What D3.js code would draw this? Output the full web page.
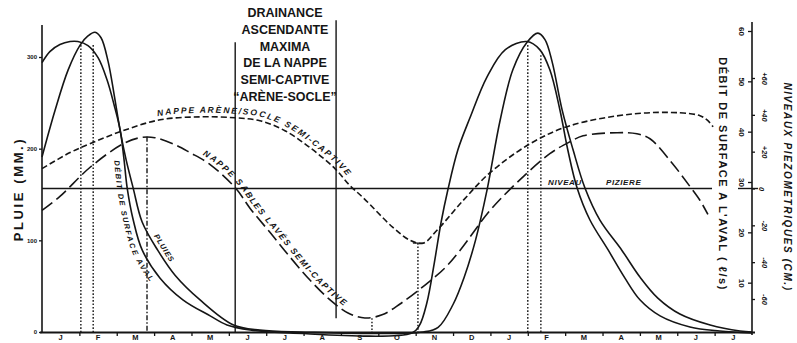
<!DOCTYPE html>
<html>
<head>
<meta charset="utf-8">
<script src="https://cdn.jsdelivr.net/npm/d3@7"></script>
<style>
  body { margin: 0; background: #fff; }
  svg text { font-family: "Liberation Sans", Arial, sans-serif; fill: #151515; font-weight: bold; }
  .curve { fill: none; stroke: #151515; stroke-width: 1.6; }
</style>
</head>
<body>
<svg id="chart" width="797" height="343"></svg>
<script>
// mois de l'axe horizontal (19 mois à partir de janvier)
let months = ["J","F","M","A","M","J","J","A","S","O","N","D","J","F","M","A","M","J","J"];
let pluieTicks = [0, 100, 200, 300];
let debitTicks = [10, 20, 30, 40, 50, 60];
let niveauTicks = [-60, -40, -20, 0, 20, 40, 60];

// [mois, mm]
let pluies = [[0,191],[0.35,242],[0.7,286],[1.02,313],[1.23,323],[1.42,327],[1.58,321],[1.77,295],
  [1.93,259],[2.09,220],[2.25,188],[2.44,157],[2.68,120],[3.1,89],[3.56,62],[4.23,35],[5.11,8],
  [5.83,2],[6.9,0],[10.2,0],[10.6,5],[11.0,30],[11.3,60],[11.6,100],[11.91,155],[12.26,231],
  [12.6,286],[12.98,316],[13.27,326],[13.46,319],[13.65,295],[13.92,242],[14.21,199],[14.53,157],
  [14.93,122],[15.52,89],[16.0,60],[16.48,37],[17.07,19.6],[17.88,7.6],[18.68,1.1],[19,0]];

// [mois, l/s]
let debit = [[0,53.7],[0.21,55.9],[0.48,57.3],[0.75,57.9],[0.96,57.9],[1.23,57.1],[1.5,54.7],
  [1.74,50.3],[1.93,45.3],[2.09,40.4],[2.19,34.8],[2.28,28.8],[2.44,22.5],[2.68,16.5],[3.16,10.9],
  [3.77,6.6],[4.5,3.4],[4.95,1.6],[5.57,0.6],[6.64,0],[9.9,0],[10.1,1.5],[10.3,6],[10.5,14],
  [10.68,22],[10.86,28.4],[11.13,36.4],[11.45,42.7],[11.91,50.9],[12.4,56.3],[12.98,57.9],
  [13.32,56.3],[13.59,52.3],[13.86,44.3],[14.07,36.4],[14.32,28.8],[14.66,22.5],[15.15,16.5],
  [15.6,10.9],[16.0,6.6],[16.54,3.4],[17.34,1.2],[18.14,0.4],[19,0]];

// [mois, cm] niveaux piézométriques
let nappeArene = [[0,10.8],[0.75,19.5],[1.28,24.3],[2.17,31.4],[3.16,37.3],[4.23,38.9],[5.17,38.4],
  [5.83,36.8],[6.5,31.4],[7.17,22.2],[7.84,10.8],[8.24,1.6],[8.59,-4.9],[9.39,-21.1],[9.85,-28.1],
  [10.2,-29.7],[10.57,-22.7],[11.27,-6.5],[11.99,8.6],[13.06,24.3],[14.13,34.1],[15.82,40.5],
  [17.07,41.1],[17.61,39.5],[17.82,36.8],[17.96,33.5]];

let nappeSables = [[0,-11.9],[0.48,-4.3],[1.28,11.4],[2.17,24.3],[2.62,27.6],[3.02,27.6],[3.56,23.8],
  [3.96,19.5],[4.5,13.0],[5.19,0],[5.57,-10.8],[6.1,-23.8],[6.64,-37.3],[7.17,-49.7],[7.71,-60.5],
  [8.19,-67.6],[8.64,-70.3],[9.1,-68.6],[9.58,-62.7],[10.25,-52.4],[10.78,-43.2],[11.19,-33.5],
  [11.99,-11.9],[12.71,3.2],[13.59,18.9],[14.13,25.4],[14.48,28.6],[15.39,30.3],[15.92,29.7],
  [16.27,27.0],[16.81,15.1],[17.34,1.1],[17.61,-6.5],[17.82,-14.1]];

// repères verticaux [mois, haut en mm, bas en mm]
let dottedLines = [[1.04,313,0],[1.37,313,0],[13.0,313,0],[13.35,302,0],[10.06,97,0],[8.83,15,0]];
let dashDotLines = [[2.81,213,0]];
let solidLines = [[5.17,316,0],[7.87,340,15]];
let niveauZero = [0, 17.93];

let drainance = ["DRAINANCE","ASCENDANTE","MAXIMA","DE LA NAPPE","SEMI-CAPTIVE","\u201CARÈNE-SOCLE\u201D"];

let svg = d3.select("#chart");

let x = d3.scaleLinear().domain([0, 19]).range([42, 752]);
let xBand = d3.scaleBand().domain(d3.range(19)).range([42, 752]);
let yPluie = d3.scaleLinear().domain([0, 300]).range([332, 57]);
let yDebit = d3.scaleLinear().domain([0, 60]).range([333, 31]);
let yNiveau = d3.scaleLinear().domain([-60, 60]).range([299, 78]);

let ink = "#151515";

// axes
svg.append("line").attr("x1", 42).attr("x2", 42).attr("y1", 25).attr("y2", 333)
  .attr("stroke", ink).attr("stroke-width", 1.6);
svg.append("line").attr("x1", 752).attr("x2", 752).attr("y1", 22).attr("y2", 335)
  .attr("stroke", ink).attr("stroke-width", 1.6);
svg.append("line").attr("x1", 40).attr("x2", 755).attr("y1", 332.5).attr("y2", 332.5)
  .attr("stroke", ink).attr("stroke-width", 1.8);

let leftAxis = svg.append("g")
  .attr("transform", "translate(42,0)")
  .call(d3.axisLeft(yPluie).tickValues(pluieTicks).tickSize(3).tickPadding(2));
leftAxis.select(".domain").remove();
leftAxis.selectAll("line").attr("stroke", ink).attr("stroke-width", 1.3);
leftAxis.selectAll("text").style("font-size", "6px").attr("fill", ink);

let monthTicks = svg.append("g")
  .attr("transform", "translate(0,332)")
  .call(d3.axisBottom(x).tickValues(d3.range(1, 19)).tickSize(4).tickFormat(""));
monthTicks.select(".domain").remove();
monthTicks.selectAll("line").attr("stroke", ink).attr("stroke-width", 1.3);

let monthLabels = svg.append("g")
  .attr("transform", "translate(0,332)")
  .call(d3.axisBottom(xBand).tickSize(0).tickPadding(3).tickFormat(i => months[i]));
monthLabels.select(".domain").remove();
monthLabels.selectAll("text").style("font-size", "7.5px").attr("fill", ink);

let debitAxis = svg.append("g")
  .attr("transform", "translate(752,0)")
  .call(d3.axisLeft(yDebit).tickValues(debitTicks).tickSize(4));
debitAxis.select(".domain").remove();
debitAxis.selectAll("line").attr("stroke", ink).attr("stroke-width", 1.3);
debitAxis.selectAll("text")
  .attr("x", 0).attr("dy", null)
  .attr("text-anchor", "middle")
  .attr("dominant-baseline", "central")
  .attr("transform", "translate(-11,0) rotate(90)")
  .style("font-size", "8px").attr("fill", ink);

let niveauAxis = svg.append("g")
  .attr("transform", "translate(752,0)")
  .call(d3.axisRight(yNiveau).tickValues(niveauTicks).tickSize(3)
    .tickFormat(d => d > 0 ? "+" + d : d == 0 ? "0" : "-" + Math.abs(d)));
niveauAxis.select(".domain").remove();
niveauAxis.selectAll("line").attr("stroke", ink).attr("stroke-width", 1.3);
niveauAxis.selectAll("text")
  .attr("x", 0).attr("dy", null)
  .attr("text-anchor", "middle")
  .attr("dominant-baseline", "central")
  .attr("transform", d => `translate(${d == 0 ? 9 : 12},0) rotate(90)`)
  .style("font-size", "7.5px").style("font-style", "italic").attr("fill", ink);
svg.append("line").attr("x1", 738).attr("x2", 758)
  .attr("y1", yNiveau(0)).attr("y2", yNiveau(0))
  .attr("stroke", ink).attr("stroke-width", 1.4);

// niveau piézière
svg.append("line")
  .attr("x1", x(niveauZero[0])).attr("x2", x(niveauZero[1]))
  .attr("y1", yNiveau(0)).attr("y2", yNiveau(0))
  .attr("stroke", ink).attr("stroke-width", 1.5);

// verticales
svg.selectAll(".vsolid").data(solidLines).enter().append("line")
  .attr("x1", d => x(d[0])).attr("x2", d => x(d[0]))
  .attr("y1", d => yPluie(d[1])).attr("y2", d => yPluie(d[2]))
  .attr("stroke", ink).attr("stroke-width", 1.4);
svg.selectAll(".vdot").data(dottedLines).enter().append("line")
  .attr("x1", d => x(d[0])).attr("x2", d => x(d[0]))
  .attr("y1", d => yPluie(d[1])).attr("y2", d => yPluie(d[2]))
  .attr("stroke", ink).attr("stroke-width", 1.4).attr("stroke-dasharray", "1.6,1.8");
svg.selectAll(".vdash").data(dashDotLines).enter().append("line")
  .attr("x1", d => x(d[0])).attr("x2", d => x(d[0]))
  .attr("y1", d => yPluie(d[1])).attr("y2", d => yPluie(d[2]))
  .attr("stroke", ink).attr("stroke-width", 1.4).attr("stroke-dasharray", "5,2,1.5,2");
// petit repère au minimum de la nappe arène
svg.append("line")
  .attr("x1", x(10.06) - 5).attr("x2", x(10.06) + 5)
  .attr("y1", yPluie(97)).attr("y2", yPluie(97))
  .attr("stroke", ink).attr("stroke-width", 1.2);

// courbes
let smooth = d3.curveCatmullRom.alpha(0.5);
let linePluie = d3.line().x(d => x(d[0])).y(d => yPluie(d[1])).curve(smooth);
let lineDebit = d3.line().x(d => x(d[0])).y(d => yDebit(d[1])).curve(smooth);
let lineNiveau = d3.line().x(d => x(d[0])).y(d => yNiveau(d[1])).curve(smooth);

svg.append("path").attr("id", "cPluie").attr("class", "curve").attr("d", linePluie(pluies));
svg.append("path").attr("id", "cDebit").attr("class", "curve").attr("d", lineDebit(debit));
svg.append("path").attr("id", "cArene").attr("class", "curve")
  .attr("stroke-dasharray", "6,3").attr("d", lineNiveau(nappeArene));
svg.append("path").attr("id", "cSables").attr("class", "curve")
  .attr("stroke-dasharray", "13,5").attr("d", lineNiveau(nappeSables));

function offsetAtX(id, px) {
  let node = document.getElementById(id);
  let len = node.getTotalLength();
  for (let l = 0; l < len; l += 0.5) {
    if (node.getPointAtLength(l).x >= px) return l;
  }
  return 0;
}

function curveLabel(id, label, startX, dy, size, spacing) {
  svg.append("text")
    .attr("dy", dy)
    .style("font-size", size + "px")
    .style("font-style", "italic")
    .style("letter-spacing", spacing + "px")
    .append("textPath")
    .attr("href", "#" + id)
    .attr("startOffset", offsetAtX(id, startX))
    .text(label);
}

curveLabel("cArene", "NAPPE ARÈNE/SOCLE SEMI-CAPTIVE", 158, -4, 8.5, 1.7);
curveLabel("cSables", "NAPPE SABLES LAVÉS SEMI-CAPTIVE", 200, -4, 8.5, 1.6);
curveLabel("cDebit", "DÉBIT DE SURFACE AVAL", 124, 10, 7.5, 1.4);
curveLabel("cPluie", "PLUIES", 150, -4, 7.5, 0.8);

svg.append("text").attr("x", 548).attr("y", 185)
  .style("font-size", "8px").style("font-style", "italic").style("letter-spacing", "0.6px")
  .text("NIVEAU");
svg.append("text").attr("x", 606).attr("y", 185)
  .style("font-size", "8px").style("font-style", "italic").style("letter-spacing", "0.6px")
  .text("PIZIERE");

// bloc de texte en haut
svg.append("g").selectAll("text").data(drainance).enter().append("text")
  .attr("x", 285)
  .attr("y", (d, i) => 17 + i * 16.8)
  .attr("text-anchor", "middle")
  .style("font-size", "12.5px")
  .text(d => d);

// titres d'axes
svg.append("text")
  .attr("transform", "translate(18,189) rotate(-90)")
  .attr("text-anchor", "middle").attr("dominant-baseline", "central")
  .style("font-size", "13px").style("letter-spacing", "2.6px")
  .text("PLUIE (MM.)");
svg.append("text")
  .attr("transform", "translate(723,174) rotate(90)")
  .attr("text-anchor", "middle").attr("dominant-baseline", "central")
  .style("font-size", "11px").style("letter-spacing", "1.5px")
  .text("DÉBIT DE SURFACE A L'AVAL ( ℓ/s)");
svg.append("text")
  .attr("transform", "translate(787,187) rotate(90)")
  .attr("text-anchor", "middle").attr("dominant-baseline", "central")
  .style("font-size", "10px").style("font-style", "italic").style("letter-spacing", "1.6px")
  .text("NIVEAUX PIEZOMETRIQUES (CM.)");
</script>
</body>
</html>
